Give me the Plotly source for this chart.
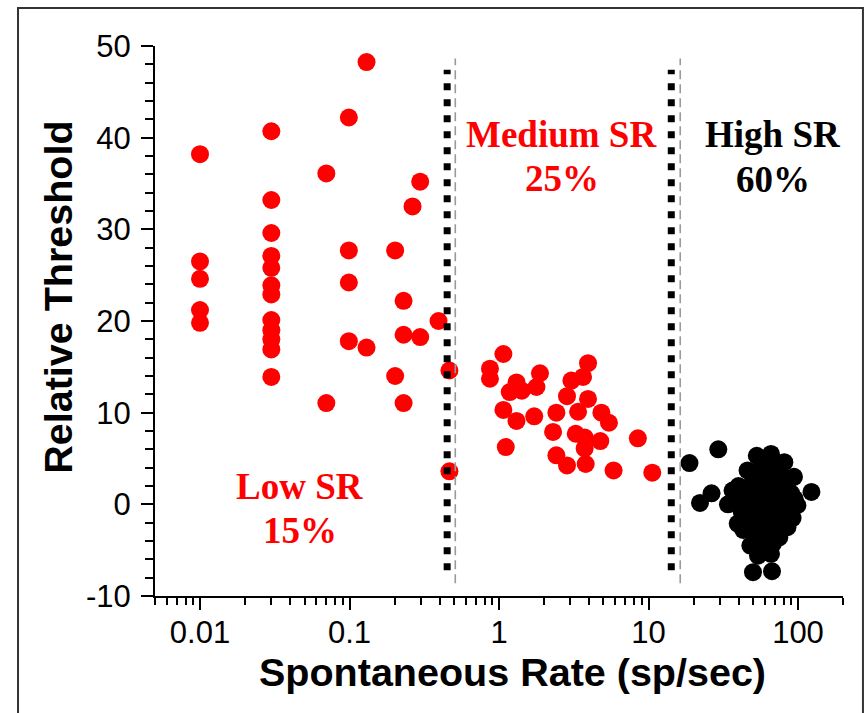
import math
import plotly.graph_objects as go

# ---------------- data ----------------
# Red units (low + medium spontaneous rate)
red_rate = [
    0.01, 0.01, 0.01, 0.01, 0.01,
    0.03, 0.03, 0.03, 0.03, 0.03, 0.03, 0.03, 0.03, 0.03, 0.03, 0.03, 0.03,
    0.13, 0.099, 0.070, 0.297, 0.264,
    0.099, 0.202, 0.099, 0.230, 0.394, 0.099, 0.130, 0.230, 0.297,
    0.466, 0.202, 0.070, 0.230, 0.466,
    1.07, 0.87, 0.87, 1.31, 1.88, 1.18, 1.42, 1.78, 1.07, 1.31, 1.72,
    3.94, 3.05, 3.65, 2.85, 3.94, 2.42, 3.38, 4.84, 5.44, 2.30, 3.26,
    3.74, 4.76, 8.49, 1.11, 3.74, 2.42, 2.85, 3.80, 5.84, 10.6,
]
red_threshold = [
    38.2, 26.5, 24.6, 21.2, 19.8,
    40.7, 33.2, 29.6, 27.1, 25.8, 23.9, 22.9, 20.1, 19.0, 18.0, 16.9, 13.9,
    48.25, 42.2, 36.1, 35.2, 32.5,
    27.7, 27.7, 24.2, 22.2, 20.0, 17.8, 17.1, 18.5, 18.25,
    14.6, 14.0, 11.05, 11.05, 3.6,
    16.4, 14.8, 13.7, 13.3, 14.3, 12.25, 12.4, 12.8, 10.3, 9.1, 9.6,
    15.4, 13.5, 13.9, 11.8, 11.5, 10.0, 10.1, 10.0, 8.9, 7.9, 7.7,
    7.3, 6.9, 7.2, 6.25, 6.1, 5.35, 4.25, 4.4, 3.7, 3.45,
]

# Black units (high spontaneous rate)
black_rate = [
    18.8, 29.3, 22.1, 26.4, 123, 50, 67, 54, 66,
    66, 53, 60, 81, 72, 46, 57, 64, 94, 77, 50, 85, 60, 70, 40, 36.5,
    45, 55, 65, 75, 90, 99, 95, 82, 70, 58, 48, 38, 34, 42, 52, 62,
    73, 86, 92, 39.5, 47, 57, 67, 78, 85, 43, 52, 63, 75, 58, 48, 68, 62,
]
black_threshold = [
    4.5, 6.0, 0.15, 1.2, 1.35, -7.4, -7.3, -5.6, -5.4,
    5.5, 5.3, 4.8, 4.6, 4.4, 3.7, 3.9, 3.5, 3.0, 3.2, 2.6, 2.4, 2.2, 2.7, 2.0, 1.5,
    1.1, 1.3, 1.0, 1.6, 1.2, -0.1, 0.6, 0.3, 0.1, 0.4, 0.0, 0.5, 0.0, -0.8, -0.9, -0.5,
    -1.0, -0.8, -1.5, -2.1, -1.8, -2.0, -1.7, -2.2, -2.5, -2.8, -3.0, -2.9, -3.6, -3.8, -4.5, -4.3, -4.8,
]

# Category boundaries (black dotted) and reference lines (grey dashed)
boundary_rates = [0.45, 14.2]
boundary_span = [-7.2, 47.4]
guide_rates = [0.51, 16.3]
guide_span = [-8.6, 48.65]

# Region labels
region_names = ["Low SR", "Medium SR", "High SR"]
region_pcts = ["15%", "25%", "60%"]
region_colors = ["#fe0000", "#fe0000", "#000000"]
region_rate_pos = [0.047, 2.63, 68.0]
region_name_y = [1.9, 40.4, 40.4]
region_pct_y = [-2.9, 35.6, 35.4]

x_tick_vals = [0.01, 0.1, 1, 10, 100]
x_tick_text = ["0.01", "0.1", "1", "10", "100"]
y_tick_vals = [-10, 0, 10, 20, 30, 40, 50]
y_tick_text = ["-10", "0", "10", "20", "30", "40", "50"]

RED = "#fe0000"

fig = go.Figure()

fig.add_trace(go.Scatter(
    x=red_rate, y=red_threshold, mode="markers",
    marker=dict(size=18, color=RED, line=dict(width=0)),
    showlegend=False, hoverinfo="skip"))
fig.add_trace(go.Scatter(
    x=black_rate, y=black_threshold, mode="markers",
    marker=dict(size=18, color="#000000", line=dict(width=0)),
    showlegend=False, hoverinfo="skip"))

for r in guide_rates:
    fig.add_trace(go.Scatter(
        x=[r, r], y=guide_span, mode="lines",
        line=dict(color="#9a9a9a", width=1.6, dash="9px,5px"),
        showlegend=False, hoverinfo="skip"))
for r in boundary_rates:
    fig.add_trace(go.Scatter(
        x=[r, r], y=boundary_span, mode="lines",
        line=dict(color="#000000", width=7, dash="7px,9px"),
        showlegend=False, hoverinfo="skip"))

annotations = []
serif = dict(family="Liberation Serif, Times New Roman, serif", size=37)
for name, pct, col, xr, yn, yp in zip(region_names, region_pcts, region_colors,
                                      region_rate_pos, region_name_y, region_pct_y):
    annotations.append(dict(x=math.log10(xr), y=yn, xref="x", yref="y",
                            text="<b>%s</b>" % name, showarrow=False,
                            font=dict(color=col, **serif),
                            xanchor="center", yanchor="middle"))
    annotations.append(dict(x=math.log10(xr), y=yp, xref="x", yref="y",
                            text="<b>%s</b>" % pct, showarrow=False,
                            font=dict(color=col, **serif),
                            xanchor="center", yanchor="middle"))

sans_bold = dict(family="Liberation Sans, Arial, sans-serif", size=39.5, color="#000000")
annotations.append(dict(x=-0.141, y=0.544, xref="paper", yref="paper",
                        text="<b>Relative Threshold</b>", textangle=-90,
                        showarrow=False, font=sans_bold,
                        xanchor="center", yanchor="middle"))
annotations.append(dict(x=0.520, y=-0.139, xref="paper", yref="paper",
                        text="<b>Spontaneous Rate (sp/sec)</b>",
                        showarrow=False, font=sans_bold,
                        xanchor="center", yanchor="middle"))

tick_font = dict(family="Liberation Sans, Arial, sans-serif", size=31, color="#000000")

fig.update_layout(
    width=865, height=713,
    margin=dict(l=155, r=22, t=46, b=117),
    paper_bgcolor="white", plot_bgcolor="white",
    annotations=annotations,
    shapes=[dict(type="rect", xref="paper", yref="paper",
                 x0=-0.1991, x1=1.029, y0=-0.25, y1=1.069,
                 line=dict(color="#333333", width=2), layer="below")],
    xaxis=dict(
        type="log", range=[math.log10(0.005), math.log10(200)],
        tickmode="array", tickvals=x_tick_vals, ticktext=x_tick_text,
        ticks="outside", ticklen=12, tickwidth=2, tickcolor="#000000",
        ticklabelstandoff=-4,
        minor=dict(ticks="outside", ticklen=7, tickwidth=2,
                   tickcolor="#000000", dtick="D1", showgrid=False),
        showline=True, linecolor="#000000", linewidth=2,
        showgrid=False, zeroline=False, tickfont=tick_font,
    ),
    yaxis=dict(
        range=[-10, 50],
        tickmode="array", tickvals=y_tick_vals, ticktext=y_tick_text,
        ticks="outside", ticklen=12, tickwidth=2, tickcolor="#000000",
        ticklabelstandoff=4,
        minor=dict(ticks="outside", ticklen=8, tickwidth=2,
                   tickcolor="#000000", dtick=2, tick0=0, showgrid=False),
        showline=True, linecolor="#000000", linewidth=2,
        showgrid=False, zeroline=False, tickfont=tick_font,
    ),
)

fig.write_html("out.html")
